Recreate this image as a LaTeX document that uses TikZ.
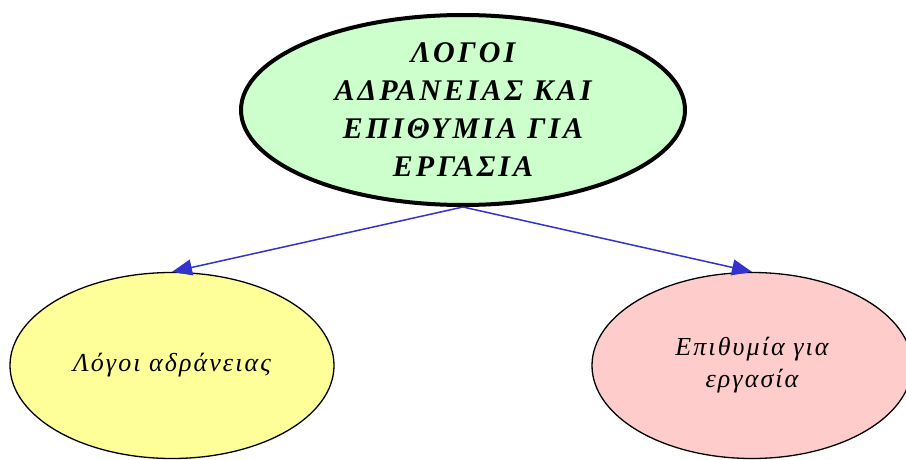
\documentclass[tikz,border=0pt]{standalone}
\usepackage{fontspec}
\setmainfont{Liberation Serif}
\usetikzlibrary{shapes.geometric,arrows.meta}
\definecolor{topfill}{HTML}{CCFFCC}
\definecolor{leftfill}{HTML}{FFFF99}
\definecolor{rightfill}{HTML}{FFCCCC}
\definecolor{edgeblue}{HTML}{3333CC}
\begin{document}
\begin{tikzpicture}[x=1pt,y=-1pt,
  oval/.style={ellipse,draw=black,inner sep=0pt,align=center,line width=1.3pt},
  edge/.style={draw=edgeblue,line width=1.5pt,-{Triangle[length=20pt,width=16pt]}}]
\useasboundingbox (0,0) rectangle (906,460);
\node[oval,line width=4pt,fill=topfill,minimum width=444pt,minimum height=190pt,
  font={\fontsize{30}{38}\selectfont\bfseries\itshape\addfontfeatures{LetterSpace=10}}]
  (top) at (463,110) {ΛΟΓΟΙ\\ΑΔΡΑΝΕΙΑΣ ΚΑΙ\\ΕΠΙΘΥΜΙΑ ΓΙΑ\\ΕΡΓΑΣΙΑ};
\node[oval,fill=leftfill,minimum width=324pt,minimum height=186pt,
  font={\fontsize{26}{32}\selectfont\itshape\addfontfeatures{LetterSpace=8}}]
  (left) at (172,365.5) {Λόγοι αδράνειας};
\node[oval,fill=rightfill,minimum width=320pt,minimum height=186pt,
  font={\fontsize{26}{32}\selectfont\itshape\addfontfeatures{LetterSpace=8}}]
  (right) at (752,365.5) {Επιθυμία για\\εργασία};
\draw[edge] (top.south) -- (left.north);
\draw[edge] (top.south) -- (right.north);
\end{tikzpicture}
\end{document}
